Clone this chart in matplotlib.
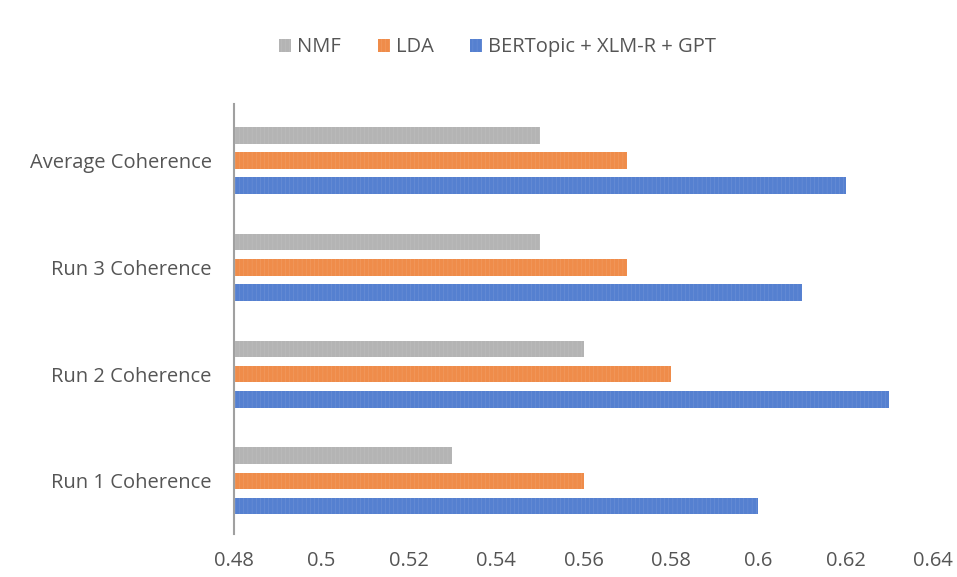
import numpy as np
import matplotlib.pyplot as plt

categories = ["Run 1 Coherence", "Run 2 Coherence", "Run 3 Coherence", "Average Coherence"]
nmf = [0.53, 0.56, 0.55, 0.55]
lda = [0.56, 0.58, 0.57, 0.57]
bert = [0.60, 0.63, 0.61, 0.62]
xticks = [0.48, 0.5, 0.52, 0.54, 0.56, 0.58, 0.6, 0.62, 0.64]
xtick_labels = ["0.48", "0.5", "0.52", "0.54", "0.56", "0.58", "0.6", "0.62", "0.64"]

plt.rcParams['font.family'] = ['Open Sans', 'DejaVu Sans']
plt.rcParams['hatch.linewidth'] = 0.3

fig = plt.figure(figsize=(9.57, 5.77), dpi=100)
ax = fig.add_axes([0.2445, 0.074, 0.7305, 0.746])

y = np.arange(len(categories))
h = 0.155
off = 0.236
base = 0.48
series = [
    ("BERTopic + XLM-R + GPT", bert, "#5580d0", -off),
    ("LDA", lda, "#ef8c4a", 0),
    ("NMF", nmf, "#b4b4b4", off),
]
handles = {}
for name, vals, col, o in series:
    b = ax.barh(y + o, np.array(vals) - base, left=base, height=h, color=col,
                hatch="||||", edgecolor=col, linewidth=0)
    for p in b:
        p.set_edgecolor("#ffffff30")
    handles[name] = b

ax.set_xlim(0.48, 0.64)
ax.set_ylim(-0.5, 3.53)
ax.set_yticks(y)
ax.set_yticklabels(categories)
ax.set_xticks(xticks)
ax.set_xticklabels(xtick_labels)
for s in ["top", "right", "bottom"]:
    ax.spines[s].set_visible(False)
ax.spines["left"].set_color("#a0a0a0")
ax.spines["left"].set_linewidth(1.5)
ax.tick_params(axis="both", length=0, labelsize=14.5, colors="#555555")
ax.tick_params(axis="y", pad=16)
ax.tick_params(axis="x", pad=12)

fig.legend([handles["NMF"], handles["LDA"], handles["BERTopic + XLM-R + GPT"]],
           ["NMF", "LDA", "BERTopic + XLM-R + GPT"],
           loc="center", bbox_to_anchor=(0.52, 0.918), ncol=3, frameon=False,
           fontsize=14.5, handlelength=0.6, handleheight=0.6, handletextpad=0.3,
           columnspacing=1.8, labelcolor="#555555")

fig.savefig("out.png", dpi=100)
